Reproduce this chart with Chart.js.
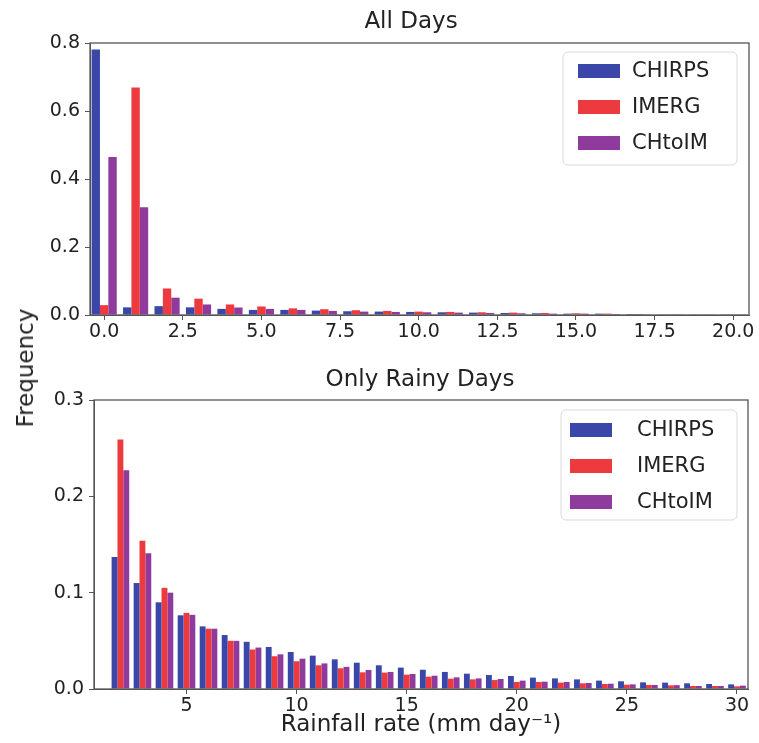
<!DOCTYPE html>
<html>
<head>
<meta charset="utf-8">
<script src="https://cdn.jsdelivr.net/npm/chart.js@4.4.0/dist/chart.umd.min.js"></script>
<style>
  body { margin: 0; background: #fff; }
  #wrap { position: relative; width: 759px; height: 743px; }
  canvas { position: absolute; left: 0; }
  #ylab {
    position: absolute; left: 25px; top: 368px;
    transform: translate(-50%, -50%) rotate(-90deg);
    font: 23px "DejaVu Sans"; color: #222; white-space: nowrap;
  }
</style>
</head>
<body>
<div id="wrap">
  <canvas id="topChart" width="759" height="345" style="top:0"></canvas>
  <canvas id="rainChart" width="759" height="398" style="top:345px"></canvas>
  <div id="ylab">Frequency</div>
</div>
<script>
// histogram bins (mm/day), all days
const topBins = [0,1,2,3,4,5,6,7,8,9,10,11,12,13,14,15,16,17,18,19,20];
const topChirps = [0.781,0.0225,0.026,0.0225,0.018,0.015,0.015,0.013,0.011,0.010,0.009,0.008,0.007,0.006,0.005,0.004,0.004,0.003,0.002,0.001,0.001];
const topImerg  = [0.029,0.669,0.078,0.048,0.031,0.025,0.0196,0.017,0.014,0.012,0.010,0.009,0.008,0.007,0.006,0.005,0.004,0.003,0.002,0.001,0.001];
const topChtoim = [0.465,0.317,0.051,0.031,0.022,0.018,0.015,0.012,0.010,0.009,0.008,0.007,0.006,0.005,0.004,0.004,0.003,0.002,0.002,0.001,0.001];
const topXTicks = [0,2.5,5,7.5,10,12.5,15,17.5,20];
const topYTicks = [0,0.2,0.4,0.6,0.8];

// rainy days only
const rainBins = [2,3,4,5,6,7,8,9,10,11,12,13,14,15,16,17,18,19,20,21,22,23,24,25,26,27,28,29,30];
const rainChirps = [0.137,0.110,0.090,0.0765,0.065,0.056,0.049,0.0436,0.0384,0.0346,0.0308,0.0273,0.0246,0.0222,0.020,0.0177,0.0159,0.0145,0.0135,0.0118,0.011,0.010,0.0087,0.008,0.0069,0.0066,0.0059,0.0052,0.0048];
const rainImerg  = [0.259,0.154,0.105,0.079,0.0626,0.050,0.041,0.034,0.0288,0.0246,0.0215,0.0173,0.017,0.0149,0.0128,0.0107,0.010,0.0093,0.0073,0.0073,0.0066,0.0059,0.0052,0.0045,0.0042,0.0038,0.0031,0.0031,0.0028];
const rainChtoim = [0.227,0.141,0.100,0.077,0.0626,0.050,0.043,0.036,0.0315,0.0266,0.023,0.0197,0.0177,0.0156,0.0138,0.0121,0.011,0.0104,0.0087,0.0076,0.0073,0.0062,0.0055,0.0048,0.0042,0.004,0.0031,0.0031,0.0035];
const rainXTicks = [5,10,15,20,25,30];
const rainYTicks = [0,0.1,0.2,0.3];

const seriesNames = ['CHIRPS', 'IMERG', 'CHtoIM'];
const seriesColors = ['#3a47a8', '#ec3a3f', '#8e3b9d'];

const FONT = '"DejaVu Sans"';
const INK = '#222';
const AXIS = '#555';

function pts(bins, vals) {
    return bins.map((b, i) => ({ x: b, y: vals[i] }));
}

// box around the plot, title and an in-plot legend
const decor = {
    id: 'decor',
    afterDraw(chart, args, o) {
        const ctx = chart.ctx;
        const a = chart.chartArea;
        ctx.save();
        ctx.strokeStyle = AXIS;
        ctx.lineWidth = 1.3;
        ctx.strokeRect(a.left, a.top, a.right - a.left, a.bottom - a.top);

        ctx.fillStyle = INK;
        ctx.font = '23px ' + FONT;
        ctx.textAlign = 'center';
        ctx.textBaseline = 'alphabetic';
        ctx.fillText(o.title, o.titleX, o.titleY);

        const L = o.legend;
        ctx.beginPath();
        ctx.roundRect(L.x, L.y, L.w, L.h, 5);
        ctx.fillStyle = 'rgba(255,255,255,0.85)';
        ctx.fill();
        ctx.strokeStyle = '#d9d9d9';
        ctx.lineWidth = 1;
        ctx.stroke();
        ctx.font = '21px ' + FONT;
        ctx.textAlign = 'left';
        ctx.textBaseline = 'middle';
        chart.data.datasets.forEach((ds, i) => {
            const cy = L.row0 + i * L.gap;
            ctx.fillStyle = ds.backgroundColor;
            ctx.fillRect(L.px, cy - 7, 42, 14);
            ctx.fillStyle = INK;
            ctx.fillText(ds.label, L.tx, cy + 1);
        });
        ctx.restore();
    }
};

function makeChart(id, bins, series, xr, yr, xTicks, yTicks, xFmt, yFmt, dims, extra) {
    const ctx = document.getElementById(id).getContext('2d');
    return new Chart(ctx, {
        type: 'bar',
        data: {
            datasets: series.map((vals, i) => ({
                label: seriesNames[i],
                data: pts(bins, vals),
                backgroundColor: seriesColors[i],
                borderWidth: 0,
                categoryPercentage: 0.8,
                barPercentage: 1.0
            }))
        },
        options: {
            responsive: false,
            animation: false,
            layout: { padding: { top: dims.top, right: dims.right, left: 0, bottom: 0 } },
            plugins: {
                legend: { display: false },
                tooltip: { enabled: false },
                decor: extra
            },
            scales: {
                x: {
                    type: 'linear',
                    offset: false,
                    min: xr[0], max: xr[1],
                    afterBuildTicks: s => { s.ticks = xTicks.map(v => ({ value: v })); },
                    afterFit: s => { s.height = dims.xh; },
                    ticks: { callback: xFmt, color: INK, font: { family: FONT, size: 19 }, padding: 1, maxRotation: 0, autoSkip: false },
                    grid: { drawOnChartArea: false, offset: false, tickLength: 5, color: AXIS },
                    border: { color: AXIS },
                    title: dims.xTitle ? { display: true, text: dims.xTitle, color: INK, font: { family: FONT, size: 23 }, padding: { top: 0, bottom: 4 } } : { display: false }
                },
                y: {
                    min: yr[0], max: yr[1],
                    afterBuildTicks: s => { s.ticks = yTicks.map(v => ({ value: v })); },
                    afterFit: s => { s.width = dims.left; },
                    ticks: { callback: yFmt, color: INK, font: { family: FONT, size: 19 }, padding: 5 },
                    grid: { drawOnChartArea: false, tickLength: 5, color: AXIS },
                    border: { color: AXIS }
                }
            }
        },
        plugins: [decor]
    });
}

makeChart('topChart', topBins, [topChirps, topImerg, topChtoim],
    [-0.45, 20.5], [0, 0.8], topXTicks, topYTicks,
    v => Number(v).toFixed(1), v => Number(v).toFixed(1),
    { top: 43, right: 10, left: 90, xh: 30 },
    { title: 'All Days', titleX: 411, titleY: 28,
      legend: { x: 563, y: 52, w: 174, h: 113, px: 578, tx: 632, row0: 71, gap: 36 } });

makeChart('rainChart', rainBins, [rainChirps, rainImerg, rainChtoim],
    [0.8, 30.5], [0, 0.3], rainXTicks, rainYTicks,
    v => String(v), v => Number(v).toFixed(1),
    { top: 55, right: 11, left: 94, xh: 54, xTitle: 'Rainfall rate (mm day\u207B\u00B9)' },
    { title: 'Only Rainy Days', titleX: 420, titleY: 41,
      legend: { x: 561, y: 65, w: 176, h: 110, px: 570, tx: 637, row0: 85, gap: 36 } });
</script>
</body>
</html>
